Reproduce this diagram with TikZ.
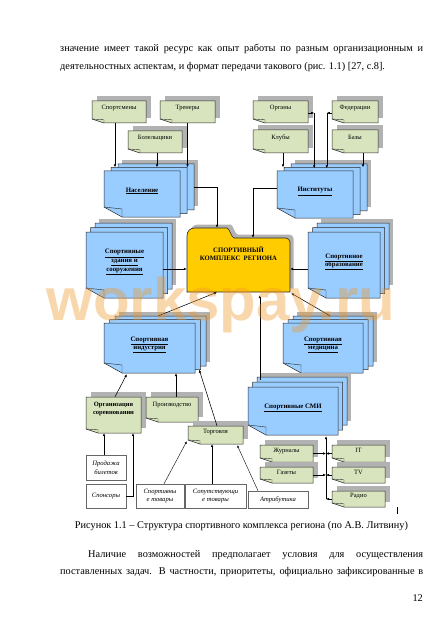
\documentclass[tikz,border=0pt]{standalone}
\usepackage{fontspec}
\setmainfont{Liberation Serif}
\setsansfont{Liberation Sans}
\usetikzlibrary{arrows.meta,calc}
\definecolor{notegreen}{RGB}{215,228,189}
\definecolor{docblue}{RGB}{153,204,255}
\definecolor{foldery}{RGB}{255,204,0}
\definecolor{shadowgray}{RGB}{178,178,178}
\definecolor{outl}{RGB}{40,40,40}
\definecolor{wmorange}{RGB}{240,150,40}
\tikzset{
 shadowc/.style={fill=shadowgray},
 gbox/.style={fill=notegreen, draw=outl, line width=0.5pt},
 bbox/.style={fill=docblue, draw=outl, line width=0.5pt},
 fold/.style={draw=outl, line width=0.4pt},
 boxnode/.style={inner sep=0pt, draw=none},
 glabel/.style={font=\fontsize{6.5}{7.8}\selectfont, align=center, inner sep=0pt},
 glabelb/.style={font=\fontsize{6.5}{7.8}\selectfont\bfseries, align=center, inner sep=0pt},
 blabel/.style={font=\fontsize{6.8}{8.6}\selectfont\bfseries, align=center, inner sep=0pt},
 wbox/.style={draw=black!60, fill=white, line width=0.5pt, inner sep=0pt, font=\fontsize{6.6}{8.6}\selectfont\itshape, align=center},
 bodytext/.style={font=\fontsize{10.3}{12}\selectfont, inner sep=0pt},
 arr/.style={draw=black, line width=0.55pt, -{Latex[length=3pt,width=2.6pt]}},
 arrs/.style={draw=black, line width=0.4pt, -{Latex[length=2.6pt,width=2.2pt]}},
}
\newcommand\gnote[7]{%
 \pgfmathsetmacro\bw{#4-#2}\pgfmathsetmacro\bh{#5-#3}%
 \pgfmathsetmacro\cx{(#2+#4)/2}\pgfmathsetmacro\cy{(#3+#5)/2}%
 \pgfmathsetmacro\ty{(#3+#5)/2-(#5-#3)/6}%
 \fill[shadowc] (#2+5,#3-5) rectangle (#4+5,#5-5);
 \filldraw[gbox] (#2,#3) -- (#4,#3) -- (#4,#5) -- (#2+12,#5) -- (#2,#5-4) -- cycle;
 \draw[fold] (#2,#5-4) -- (#2+12,#5-3.2) -- (#2+12,#5);
 \node[boxnode, minimum width=\bw pt, minimum height=\bh pt] (#1) at (\cx,\cy) {};
 \node[#6] (#1-t) at (\cx,\ty) {#7};
}
\newcommand\bstack[8]{%
 \pgfmathsetmacro\bw{#4-#2}\pgfmathsetmacro\bh{#5-#3}%
 \pgfmathsetmacro\cx{(#2+#4)/2}\pgfmathsetmacro\cy{(#3+#5)/2}%
 \fill[shadowc] (#2+2*#6+4,#3-2*#7-4) rectangle (#4+2*#6+4,#5-2*#7-4);
 \foreach \ii in {2,1,0}{%
  \begin{scope}[shift={(\ii*#6,-\ii*#7)}]
   \filldraw[bbox] (#2,#3) -- (#4,#3) -- (#4,#5) -- (#2+18,#5) -- (#2,#5-10) -- cycle;
   \draw[fold] (#2,#5-10) -- (#2+18,#5-8) -- (#2+18,#5);
  \end{scope}}
 \node[boxnode, minimum width=\bw pt, minimum height=\bh pt] (#1) at (\cx,\cy) {};
 \node[boxnode, minimum width=\bw pt, minimum height=\bh pt] (#1-m) at (\cx+#6,\cy-#7) {};
 \node[boxnode, minimum width=\bw pt, minimum height=\bh pt] (#1-b) at (\cx+2*#6,\cy-2*#7) {};
 \node[blabel] (#1-t) at (\cx,\cy-3) {#8};
}
\begin{document}
\begin{tikzpicture}[x=1pt,y=-1pt]
\useasboundingbox (0,0) rectangle (444,628);
\fill[white] (0,0) rectangle (444,628);

% body text
\node[bodytext, anchor=base west] (l1) at (60,52) {\makebox[363pt][s]{значение имеет такой ресурс как опыт работы по разным организационным и}};
\node[bodytext, anchor=base west] (l2) at (60,70) {деятельностных аспектам, и формат передачи такового (рис. 1.1) [27, с.8].};

% green notes (top)
\gnote{spm}{92}{101}{146}{123}{glabel}{Спортсмены}
\gnote{coach}{160}{101}{215}{123}{glabel}{Тренеры}
\gnote{fans}{128}{131}{182}{153}{glabel}{Болельщики}
\gnote{organs}{253}{101}{308}{123}{glabel}{Органы}
\gnote{feds}{332}{101}{378}{123}{glabel}{Федерации}
\gnote{clubs}{253}{130}{308}{153}{glabel}{Клубы}
\gnote{bases}{332}{130}{378}{153}{glabel}{Базы}

% blue stacks
\bstack{pop}{104}{171}{180}{217}{7}{3.5}{\underline{Население}}
\bstack{inst}{277}{171}{353}{218}{7}{3.5}{\underline{Институты}}
\bstack{build}{86}{232}{163}{298}{4.5}{4.5}{\underline{Спортивные}\\\underline{здания и}\\\underline{сооружения}}
\bstack{edu}{308}{232}{380}{298}{4.5}{4.5}{\underline{Спортивное}\\\underline{образование}}
\bstack{ind}{104}{323}{195}{373}{5.5}{3.5}{\underline{Спортивная}\\\underline{индустрия}}
\bstack{med}{283}{323}{363}{373}{5}{3.5}{\underline{Спортивная}\\\underline{медицина}}
\bstack{smi}{248}{387}{338}{435}{4.5}{5}{\underline{Спортивные СМИ}}

% central folder
\begin{scope}[shift={(3.5,-3.5)}]
\fill[shadowc] (187,292) -- (187,236) .. controls (187,231) and (190,228) .. (195,228) -- (227,228) .. controls (230,229) and (231,237) .. (234,238) -- (286,238) .. controls (288,238) and (290,240) .. (290,242) -- (290,292) -- cycle;
\end{scope}
\filldraw[fill=foldery, draw=outl, line width=0.6pt] (187,292) -- (187,236) .. controls (187,231) and (190,228) .. (195,228) -- (227,228) .. controls (230,229) and (231,237) .. (234,238) -- (286,238) .. controls (288,238) and (290,240) .. (290,242) -- (290,292) -- cycle;
\node[boxnode, minimum width=103pt, minimum height=54pt] (cplx) at (238.5,265) {};
\node[font=\fontsize{6.7}{8}\selectfont\bfseries, align=center, inner sep=0pt] (cplx-t) at (238.5,254) {СПОРТИВНЫЙ\\КОМПЛЕКС\ \ РЕГИОНА};

% green notes (bottom)
\gnote{orgs}{86}{397}{141}{433}{glabelb}{Организация\\соревновании}
\gnote{prod}{146}{397}{198}{422}{glabel}{Производство}
\gnote{trade}{188}{426}{243}{444}{glabel}{Торговля}
\gnote{jour}{260}{445}{313}{462}{glabel}{Журналы}
\gnote{gaz}{260}{467}{313}{483}{glabel}{Газеты}
\gnote{it}{332}{445}{385}{462}{glabel}{IT}
\gnote{tv}{332}{467}{385}{483}{glabel}{TV}
\gnote{radio}{332}{491}{385}{507}{glabel}{Радио}

% white boxes
\node[wbox, minimum width=40pt, minimum height=25pt] (tickets) at (106,467.5) {Продажа\\билетов};
\node[wbox, minimum width=40pt, minimum height=24pt] (spons) at (106,496) {Спонсоры};
\node[wbox, minimum width=48pt, minimum height=24pt] (sgoods) at (160,496) {Спортивны\\е товары};
\node[wbox, minimum width=61pt, minimum height=24pt] (cgoods) at (215.5,496) {Сопутствующи\\е товары};
\node[wbox, minimum width=60pt, minimum height=17pt] (attr) at (278,499.5) {Атрибутика};

% connectors: top left
\draw[arr] ([xshift=-4pt]spm.south) -- ([xshift=-4pt]spm.south |- pop-m.north);
\draw[arr] ([xshift=2pt]fans.south) -- ([xshift=2pt]fans.south |- pop-m.north);
\draw[arr] (coach.south) -- (coach.south |- pop-m.north);
\draw[arr] (pop-b.east) -| ([xshift=-21.5pt,yshift=10pt]cplx.north);
% top right
\draw[arr] ([yshift=-1pt]organs.east) -- ([xshift=6pt,yshift=-1pt]organs.east);
\draw[arr] ([xshift=6pt,yshift=-1pt]organs.east) -- ([xshift=6pt,yshift=-1pt]organs.east |- inst-m.north);
\draw[arr] ([yshift=-1pt]feds.west) -- ([xshift=-5pt,yshift=-1pt]feds.west);
\draw[arr] ([xshift=-5pt,yshift=-1pt]feds.west) -- ([xshift=-5pt,yshift=-1pt]feds.west |- inst-m.north);
\draw[arr] ([xshift=2.5pt]clubs.south) -- ([xshift=2.5pt]clubs.south |- inst-m.north);
\draw[arr] ([xshift=8pt]bases.south) -- ([xshift=8pt]bases.south |- inst-m.north);
\draw[arr] ([yshift=6.5pt]inst.west) -| ([xshift=14.5pt]cplx.north);
% middle
\draw[arr] ([yshift=-4pt]build.east) -- ([yshift=-4pt]build.east -| cplx.west);
\draw[arr] ([yshift=-4pt]edu.west) -- ([yshift=-4pt]edu.west -| cplx.east);
\draw[arr] ([xshift=-2pt]ind-b.north) -- ([xshift=-21.5pt]cplx.south);
\draw[arr] ([xshift=-3pt]med-b.north) -- ([xshift=1pt,yshift=-1pt]cplx.south east);
\draw[arr] ([xshift=3pt,yshift=-3pt]smi-b.north west) -- ([xshift=3pt,yshift=-3pt]smi-b.north west |- cplx.south);
% lower left
\draw[arr] ([xshift=1.5pt]orgs.north) -- ([xshift=23pt,yshift=-1pt]ind.south west);
\draw[arr] ([xshift=4pt]prod.north) -- ([xshift=4pt]prod.north |- ind.south);
\draw[arr] ([xshift=1.5pt]trade.north) -- ([xshift=-1.5pt]ind-m.south east);
\draw[arrs] ([xshift=-2pt]tickets.north) -- ([xshift=-2pt]tickets.north |- orgs.south);
\draw[arrs] (spons.east) -| ([xshift=19.5pt]orgs.south);
\draw[arrs] ([xshift=4pt]sgoods.north) -- ([xshift=-1pt,yshift=3pt]trade.south west);
\draw[arrs] ([xshift=-3.5pt]cgoods.north) -- ([xshift=-3.5pt]cgoods.north |- trade.south);
\draw[arrs] ([xshift=-20pt]attr.north) -- ([xshift=-6pt,yshift=-1pt]trade.south east);
% media
\coordinate (bus) at ([xshift=33pt]smi.south);
\draw[arr] (radio.west -| bus) -- ([yshift=-1pt]bus);
\draw[arr] (radio.west) -- (radio.west -| bus);
\draw[arr] (jour.east) -- (jour.east -| bus);
\draw[arr] (it.west) -- (it.west -| bus);
\draw[arr] (gaz.east) -- (gaz.east -| bus);
\draw[arr] (tv.west) -- (tv.west -| bus);
\coordinate (tk) at ([xshift=12pt]radio.south east);
\draw[line width=0.5pt] (tk) -- ([yshift=-7pt]tk);

% caption and text
\node[bodytext, anchor=base] (cap) at (241.5,528) {Рисунок 1.1 – Структура спортивного комплекса региона (по А.В. Литвину)};
\node[bodytext, anchor=base west] (p1) at (88,557) {\makebox[335pt][s]{Наличие возможностей предполагает условия для осуществления}};
\node[bodytext, anchor=base west] (p2) at (60,574) {\makebox[363pt][s]{поставленных задач. В частности, приоритеты, официально зафиксированные в}};
\node[bodytext, anchor=base east] (pg) at (423,601.5) {12};

% watermark
\node[font=\fontsize{60}{60}\selectfont\sffamily\bfseries, text=wmorange, text opacity=0.38, anchor=base, inner sep=0pt] (wm) at (221,320) {workspay.ru};
\end{tikzpicture}
\end{document}
